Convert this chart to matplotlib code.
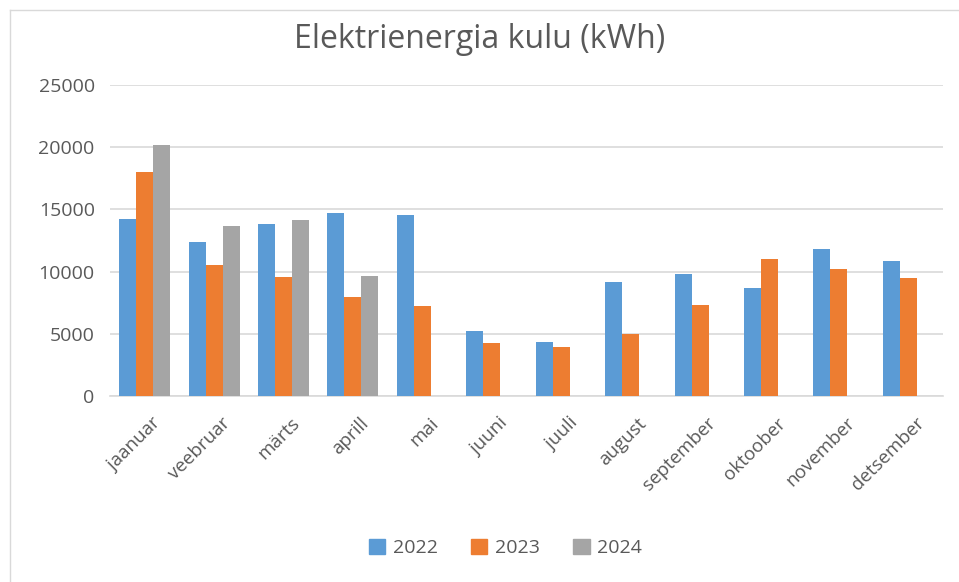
import matplotlib
matplotlib.use("Agg")
import matplotlib.pyplot as plt
import numpy as np
from matplotlib.lines import Line2D

months = ["jaanuar", "veebruar", "märts", "aprill", "mai", "juuni", "juuli",
          "august", "september", "oktoober", "november", "detsember"]
series_names = ["2022", "2023", "2024"]
v2022 = [14250, 12350, 13850, 14700, 14550, 5200, 4350, 9200, 9800, 8700, 11850, 10850]
v2023 = [18000, 10550, 9600, 7950, 7250, 4250, 3900, 4950, 7350, 11000, 10200, 9450]
v2024 = [20200, 13700, 14150, 9650, np.nan, np.nan, np.nan, np.nan, np.nan, np.nan, np.nan, np.nan]
colors = ["#5B9BD5", "#ED7D31", "#A5A5A5"]
yticks = [0, 5000, 10000, 15000, 20000, 25000]

plt.rcParams['font.family'] = ['Open Sans', 'DejaVu Sans']

fig = plt.figure(figsize=(9.59, 5.82), dpi=100)
ax = fig.add_axes([110/959, 1 - 396/582, 833/959, 311/582])

x = np.arange(len(months))
w = 0.245
for i, (vals, c, name) in enumerate(zip([v2022, v2023, v2024], colors, series_names)):
    ax.bar(x + (i - 1) * w, vals, width=w, color=c, label=name, zorder=3)

ax.set_xlim(-0.5, len(months) - 0.5)
ax.set_ylim(0, 25000)
ax.set_yticks(yticks)
ax.set_yticklabels([str(t) for t in yticks])
ax.yaxis.grid(True, color="#d9d9d9", linewidth=1.2, zorder=0)
for s in ["top", "right", "left"]:
    ax.spines[s].set_visible(False)
ax.spines["bottom"].set_color("#d9d9d9")
ax.spines["bottom"].set_linewidth(1.2)
ax.tick_params(axis="both", length=0, colors="#595959")
ax.tick_params(axis="y", pad=11, labelsize=14)
ax.set_xticks(x + 0.1)
ax.set_xticklabels(months, rotation=45, ha="right", rotation_mode="anchor")
ax.tick_params(axis="x", pad=13, labelsize=13.5)

fig.text(0.5, 1 - 40/582, "Elektrienergia kulu (kWh)", ha="center", va="center",
         fontsize=23, color="#595959")

handles = [plt.Rectangle((0, 0), 1, 1, color=c) for c in colors]
fig.legend(handles, series_names, loc="center", bbox_to_anchor=(0.527, 1 - 548/582),
           ncol=3, frameon=False, fontsize=14, labelcolor="#595959",
           handlelength=0.85, handleheight=0.85, columnspacing=1.7, handletextpad=0.4)

# chart area border (partially visible)
fig.add_artist(Line2D([10/959, 10/959], [0, 1 - 10/582], transform=fig.transFigure,
                      color="#d9d9d9", linewidth=1))
fig.add_artist(Line2D([10/959, 1], [1 - 10/582, 1 - 10/582], transform=fig.transFigure,
                      color="#d9d9d9", linewidth=1))

fig.savefig("out.png", dpi=100)
